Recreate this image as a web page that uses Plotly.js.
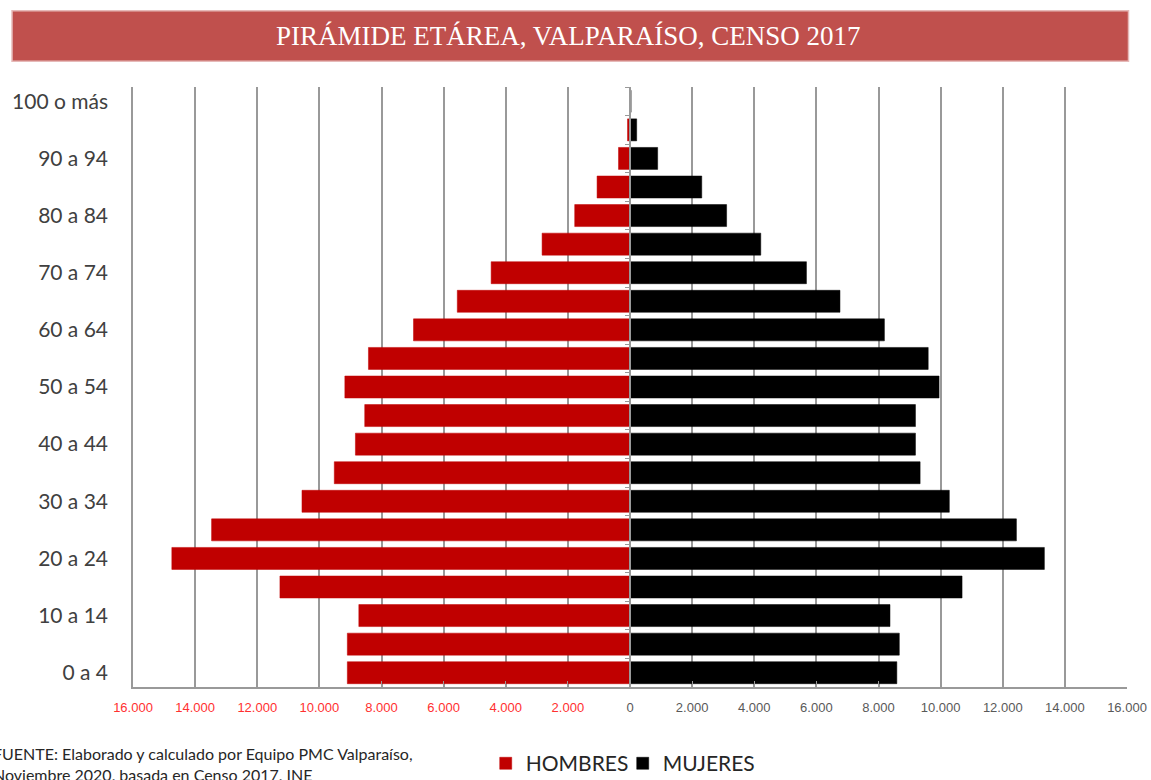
<!DOCTYPE html>
<html>
<head>
<meta charset="utf-8">
<script src="https://cdn.plot.ly/plotly-3.0.1.min.js"></script>
<style>
html,body{margin:0;padding:0;background:#fff;}
#chart{width:1151px;height:780px;}
</style>
</head>
<body>
<div id="chart"></div>
<script>
const categories = ["0 a 4","5 a 9","10 a 14","15 a 19","20 a 24","25 a 29","30 a 34","35 a 39","40 a 44","45 a 49","50 a 54","55 a 59","60 a 64","65 a 69","70 a 74","75 a 79","80 a 84","85 a 89","90 a 94","95 a 99","100 o más"];
const hombres = [9100,9100,8730,11270,14750,13470,10560,9520,8840,8540,9180,8420,6970,5560,4470,2830,1780,1060,370,80,15];
const mujeres = [8590,8670,8370,10690,13340,12440,10280,9340,9190,9190,9950,9600,8190,6760,5680,4210,3110,2310,890,215,35];
const xTickVals = [-16000,-14000,-12000,-10000,-8000,-6000,-4000,-2000,0,2000,4000,6000,8000,10000,12000,14000,16000];
const xTickLabels = ["16.000","14.000","12.000","10.000","8.000","6.000","4.000","2.000","0","2.000","4.000","6.000","8.000","10.000","12.000","14.000","16.000"];
const yTickLabels = ["0 a 4","10 a 14","20 a 24","30 a 34","40 a 44","50 a 54","60 a 64","70 a 74","80 a 84","90 a 94","100 o más"];
const titleText = "PIRÁMIDE ETÁREA, VALPARAÍSO, CENSO 2017";
const sourceText = "FUENTE: Elaborado y calculado por Equipo PMC Valparaíso,<br>Noviembre 2020, basada en Censo 2017, INE";

const tickText = xTickLabels.map((t, i) => xTickVals[i] < 0 ? '<span style="color:#ff3030">' + t + '</span>' : t);

const traces = [
  {
    type: 'bar', orientation: 'h', name: 'HOMBRES',
    y: categories, x: hombres.map(v => -v), customdata: hombres,
    hovertemplate: '%{y}: %{customdata}<extra>HOMBRES</extra>',
    marker: {color: '#c00000', line: {color: '#c00000', width: 0.5}}
  },
  {
    type: 'bar', orientation: 'h', name: 'MUJERES',
    y: categories, x: mujeres,
    hovertemplate: '%{y}: %{x}<extra>MUJERES</extra>',
    marker: {color: '#000000', line: {color: '#000000', width: 0.5}}
  }
];

// invisible trace to activate the central axis (yaxis2)
traces.push({type: 'scatter', mode: 'markers', x: [0], y: [categories[0]], yaxis: 'y2',
  marker: {opacity: 0}, showlegend: false, hoverinfo: 'skip'});

const layout = {
  width: 1151, height: 780,
  margin: {l: 133, r: 24, t: 87, b: 93, autoexpand: false},
  paper_bgcolor: '#ffffff', plot_bgcolor: '#ffffff',
  barmode: 'relative', bargap: 0.23,
  showlegend: true,
  legend: {orientation: 'h', xref: 'container', yref: 'container',
           x: 0.422, xanchor: 'left', y: 0.021, yanchor: 'middle',
           entrywidth: 92, entrywidthmode: 'pixels',
           font: {family: 'Lato, "Open Sans", sans-serif', size: 21, color: '#262626'},
           traceorder: 'normal', bgcolor: 'rgba(0,0,0,0)'},
  xaxis: {
    range: [-16000, 16000], tickvals: xTickVals, ticktext: tickText,
    showgrid: true, gridcolor: '#999999', gridwidth: 1.5,
    zeroline: true, zerolinecolor: '#999999', zerolinewidth: 1.5,
    showline: true, linecolor: '#999999', linewidth: 1.5,
    ticks: 'inside', ticklen: 6, tickcolor: '#999999',
    ticklabelstandoff: 8,
    tickfont: {family: '"Liberation Sans Narrow", "Liberation Sans", Arial, sans-serif', size: 13, color: '#595959'},
    fixedrange: true
  },
  yaxis: {
    type: 'category', categoryorder: 'array', categoryarray: categories,
    tickvals: yTickLabels, ticktext: yTickLabels,
    showgrid: false, zeroline: false,
    showline: true, linecolor: '#999999', linewidth: 1.5,
    ticks: '', ticklabelstandoff: 19,
    tickfont: {family: 'Lato, "Open Sans", sans-serif', size: 21, color: '#404040'},
    range: [-0.5, 20.5], fixedrange: true
  },
  yaxis2: {
    type: 'category', overlaying: 'y', anchor: 'free', position: 0.5, side: 'left',
    categoryorder: 'array', categoryarray: categories, range: [-0.5, 20.5],
    showticklabels: false, showgrid: false, zeroline: false,
    showline: true, linecolor: '#999999', linewidth: 1.5,
    ticks: 'outside', tickson: 'boundaries', ticklen: 4, tickcolor: '#999999',
    fixedrange: true
  },
  shapes: [
    {type: 'rect', xref: 'paper', yref: 'paper', x0: -0.1217, x1: 1.0015, y0: 1.043, y1: 1.127,
     fillcolor: '#c0504d', line: {color: '#e6b9b8', width: 1.5}, layer: 'above'}
  ],
  annotations: [
    {xref: 'paper', yref: 'paper', x: 0.4386, y: 1.085, xanchor: 'center', yanchor: 'middle',
     text: titleText, showarrow: false,
     font: {family: '"Liberation Serif", "DejaVu Serif", serif', size: 27, color: '#ffffff'}},
    {xref: 'paper', yref: 'paper', x: -0.1429, y: -0.0917, xanchor: 'left', yanchor: 'top', align: 'left',
     text: sourceText, showarrow: false,
     font: {family: 'Lato, "Open Sans", sans-serif', size: 16, color: '#262626'}}
  ]
};

Plotly.newPlot('chart', traces, layout, {displayModeBar: false, responsive: false});
</script>
</body>
</html>
